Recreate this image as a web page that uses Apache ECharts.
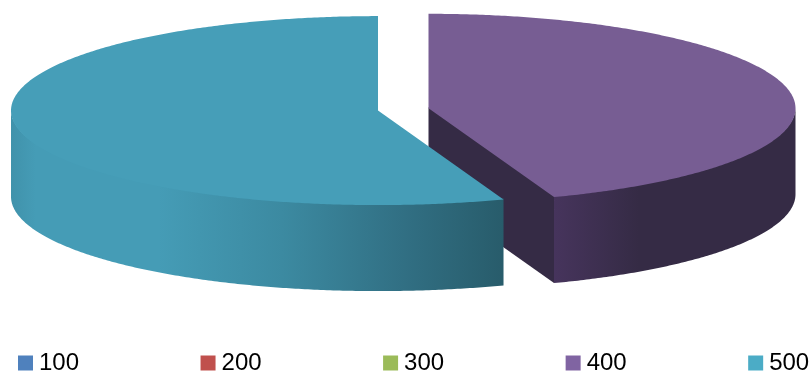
<!DOCTYPE html>
<html>
<head>
<meta charset="utf-8">
<style>html,body{margin:0;padding:0;background:#fff}#c{width:811px;height:373px}</style>
<script src="https://cdn.jsdelivr.net/npm/echarts@6/dist/echarts.min.js"></script>
</head>
<body>
<div id="c"></div>
<script>
var categories = ['100', '200', '300', '400', '500'];
var sliceValues = [0, 0, 0, 400, 500];
var legendColors = ['#4f81bd', '#c0504d', '#9bbb59', '#8064a2', '#4bacc6'];
var topColors = ['#4a78ae', '#b04a47', '#8fad52', '#775d93', '#469eb8'];
var centersX = [403, 403, 403, 428.5, 378];
var centersY = [109, 109, 109, 108.3, 110.6];

var RX = 367, RY = 94.5, DEPTH = 86;
var total = sliceValues.reduce(function (a, b) { return a + b; }, 0);

function pt(cx, cy, deg, dz) {
  var r = deg * Math.PI / 180;
  return [cx + RX * Math.sin(r), cy - RY * Math.cos(r) + (dz || 0)];
}
function arc(cx, cy, a, b, dz) {
  var out = [], n = Math.max(2, Math.ceil(Math.abs(b - a) * 2));
  for (var i = 0; i <= n; i++) out.push(pt(cx, cy, a + (b - a) * i / n, dz));
  return out;
}
var wallGradients = {
  3: { type: 'linear', x: 555, y: 0, x2: 795, y2: 0, global: true, colorStops: [
    { offset: 0, color: '#46345c' }, { offset: 0.35, color: '#352b45' }, { offset: 1, color: '#352b45' }] },
  4: { type: 'linear', x: 11, y: 0, x2: 503, y2: 0, global: true, colorStops: [
    { offset: 0, color: '#4092ab' }, { offset: 0.05, color: '#459cb6' }, { offset: 0.3, color: '#459cb6' },
    { offset: 0.55, color: '#3c8aa1' }, { offset: 0.8, color: '#316f83' }, { offset: 1, color: '#285c6b' }] }
};

function renderSlice(params, api) {
  var idx = params.seriesIndex, v = api.value(0);
  if (!v) return { type: 'group', children: [] };
  var before = 0;
  for (var i = 0; i < idx; i++) before += sliceValues[i];
  var a0 = before / total * 360, a1 = (before + v) / total * 360;
  var cx = centersX[idx], cy = centersY[idx], children = [];
  var tuck = 1; // walls reach slightly under the top face so no seam shows

  if (a1 < 180) {
    var e = pt(cx, cy, a1);
    children.push({ type: 'polygon', shape: { points: [[cx, cy - tuck], [e[0], e[1] - tuck], [e[0], e[1] + DEPTH], [cx, cy + DEPTH]] },
      style: { fill: '#352b45' } });
  }
  var w0 = Math.max(a0, 90), w1 = Math.min(a1, 270);
  if (w1 > w0) {
    var pts = arc(cx, cy, w0, w1, -tuck).concat(arc(cx, cy, w1, w0, DEPTH));
    children.push({ type: 'polygon', shape: { points: pts }, style: { fill: wallGradients[idx] || legendColors[idx] } });
  }
  children.push({ type: 'polygon', shape: { points: [[cx, cy]].concat(arc(cx, cy, a0, a1, 0)) },
    style: { fill: topColors[idx] } });
  return { type: 'group', children: children };
}

var chart = echarts.init(document.getElementById('c'), null, { renderer: 'canvas' });
chart.setOption({
  animation: false,
  backgroundColor: '#fff',
  legend: {
    left: 18, top: 351, icon: 'rect', itemWidth: 15, itemHeight: 15, itemGap: 121.5, padding: 0,
    selectedMode: false, data: categories,
    textStyle: { fontFamily: 'Liberation Sans', fontSize: 24, color: '#000', padding: [0, 0, 0, 1] }
  },
  series: categories.map(function (name, i) {
    return { type: 'custom', name: name, coordinateSystem: 'none', silent: true,
      itemStyle: { color: legendColors[i] }, renderItem: renderSlice, data: [[sliceValues[i]]] };
  })
});
</script>
</body>
</html>
